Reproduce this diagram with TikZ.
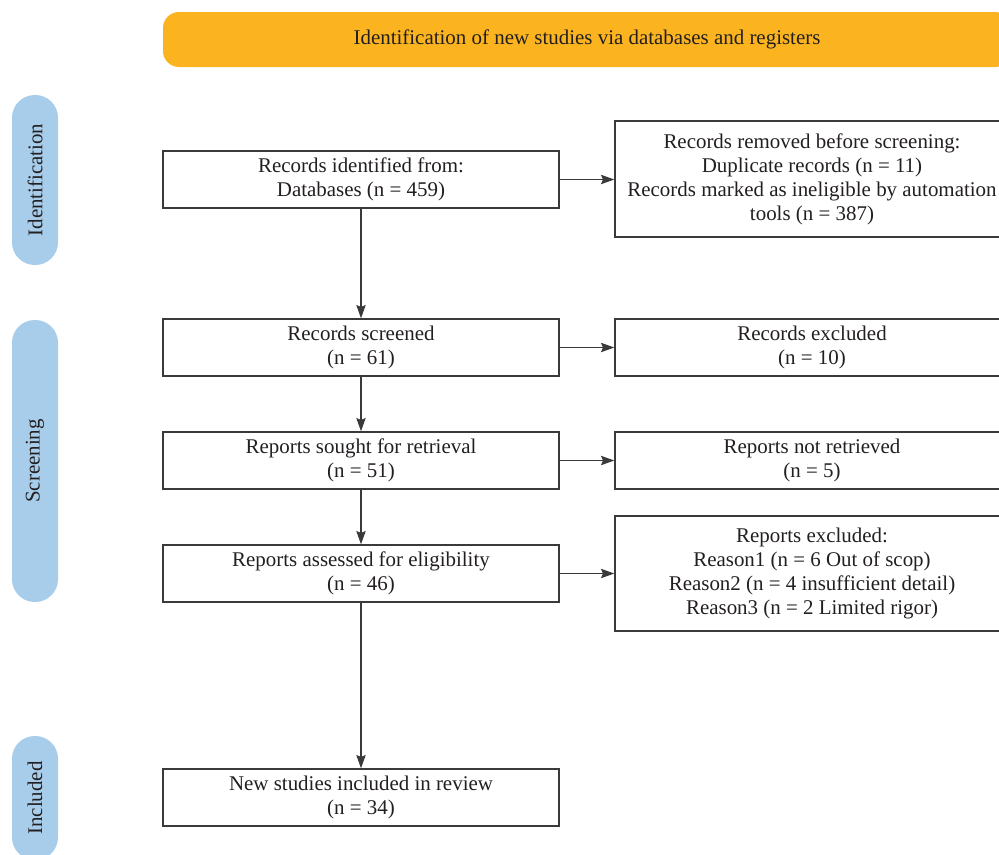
\documentclass[tikz,border=0pt]{standalone}
\usepackage{fontspec}
\setmainfont{Liberation Serif}
\usetikzlibrary{arrows.meta}
\definecolor{hdr}{HTML}{FBB41F}
\definecolor{pill}{HTML}{A8CDEB}
\definecolor{ln}{HTML}{3A3A3A}
\definecolor{txt}{HTML}{231F20}
\tikzset{
  flowbox/.style={draw=ln, line width=1pt, fill=white, align=center, text=txt,
    font=\fontsize{15.7}{18}\selectfont, inner sep=0pt},
  leftbox/.style={flowbox, minimum width=297pt, minimum height=42.75pt},
  rightbox/.style={flowbox, minimum width=295.5pt},
  pillbox/.style={fill=pill, rounded corners=17pt, minimum height=34.5pt, inner sep=0pt,
    text=txt, font=\fontsize{15.7}{18}\selectfont, rotate=90},
  flowarrow/.style={draw=ln, line width=1pt, -{Stealth[length=10pt,width=7pt,inset=1.5pt]}}
}
\begin{document}
\begin{tikzpicture}[x=0.75pt,y=-0.75pt]
\useasboundingbox (0,0) rectangle (999,854);
\clip (0,0) rectangle (999,854);
% header
\node[fill=hdr, rounded corners=12pt, minimum width=636pt, minimum height=41.25pt,
  text=txt, font=\fontsize{15.7}{18}\selectfont] (hdr) at (587,39.5)
  {Identification of new studies via databases and registers};
% side pills
\node[pillbox, minimum width=127.5pt] (pid) at (35,180) {Identification};
\node[pillbox, minimum width=211.5pt] (psc) at (35,461) {Screening};
\node[pillbox, minimum width=93pt] (pin) at (35,798) {Included};
% left boxes
\node[leftbox] (b1) at (361,179.5) {Records identified from:\\Databases (n = 459)};
\node[leftbox] (b2) at (361,347.5) {Records screened\\(n = 61)};
\node[leftbox] (b3) at (361,460.5) {Reports sought for retrieval\\(n = 51)};
\node[leftbox] (b4) at (361,573.5) {Reports assessed for eligibility\\(n = 46)};
\node[leftbox] (b5) at (361,797.5) {New studies included in review\\(n = 34)};
% right boxes
\node[rightbox, minimum height=87pt] (r1) at (812,179)
  {Records removed before screening:\\Duplicate records (n = 11)\\Records marked as ineligible by automation\\tools (n = 387)};
\node[rightbox, minimum height=42.75pt] (r2) at (812,347.5) {Records excluded\\(n = 10)};
\node[rightbox, minimum height=42.75pt] (r3) at (812,460.5) {Reports not retrieved\\(n = 5)};
\node[rightbox, minimum height=86.25pt] (r4) at (812,573.5)
  {Reports excluded:\\Reason1 (n = 6 Out of scop)\\Reason2 (n = 4 insufficient detail)\\Reason3 (n = 2 Limited rigor)};
% arrows
\draw[flowarrow] (b1) -- (b2);
\draw[flowarrow] (b2) -- (b3);
\draw[flowarrow] (b3) -- (b4);
\draw[flowarrow] (b4) -- (b5);
\draw[flowarrow] (b1.east) -- (b1.east -| r1.west);
\draw[flowarrow] (b2) -- (r2);
\draw[flowarrow] (b3) -- (r3);
\draw[flowarrow] (b4) -- (r4);
\end{tikzpicture}
\end{document}
